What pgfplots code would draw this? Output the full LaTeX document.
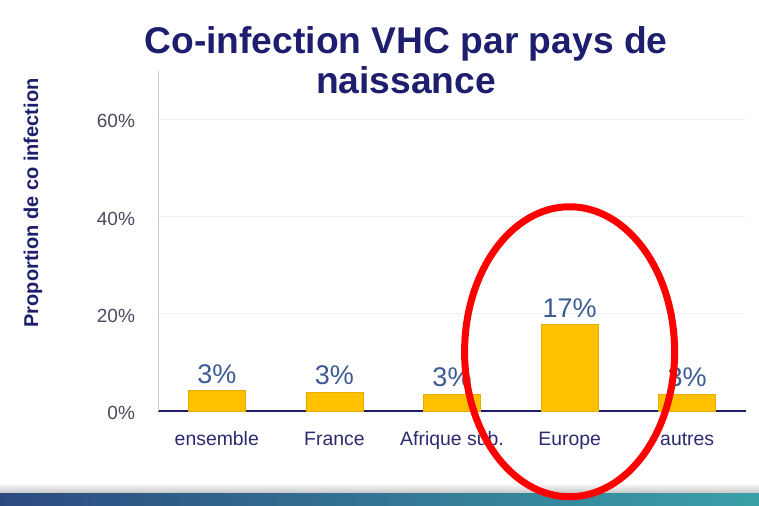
\documentclass[border=0pt]{standalone}
\usepackage{fontspec}
\setmainfont{Liberation Sans}
\usepackage{pgfplots}
\pgfplotsset{compat=1.18}
\definecolor{navy}{HTML}{1E1E6E}
\definecolor{barc}{HTML}{FFC000}
\definecolor{lab}{HTML}{3C5A94}
\definecolor{tickc}{HTML}{4A4A5E}
\definecolor{catc}{HTML}{2A2A70}
\definecolor{bandl}{HTML}{2C4A80}
\definecolor{bandr}{HTML}{3AA0A8}
\begin{document}
\begin{tikzpicture}
\useasboundingbox (0,0) rectangle (379.5pt,252.5pt);
\shade[top color=white, bottom color=gray!45] (0,6pt) rectangle (379.5pt,11pt);
\shade[left color=bandl, right color=bandr] (0,0) rectangle (379.5pt,6pt);
\node[font=\fontsize{18.6}{20}\selectfont\bfseries, text=navy, align=center] at (203pt,222.5pt) {Co-infection VHC par pays de\\naissance};
\node[font=\fontsize{10}{12}\selectfont\bfseries, text=navy, rotate=90] at (16.5pt,151pt) {Proportion de co infection};
\begin{axis}[
  at={(79pt,47pt)}, anchor=south west,
  scale only axis, width=294pt, height=170pt,
  xmin=-0.5, xmax=4.5, ymin=0, ymax=70,
  axis x line*=bottom, axis y line*=left,
  x axis line style={navy, line width=1pt, -},
  y axis line style={gray!40, line width=0.5pt, -},
  xtick={0,1,2,3,4},
  xticklabels={ensemble,France,Afrique sub.,Europe,autres},
  typeset ticklabels with strut,
  x tick label style={font=\fontsize{9.7}{11}\selectfont, text=catc, yshift=-6pt},
  major x tick style={draw=none},
  extra x ticks={-0.5,0.5,1.5,2.5,3.5,4.5},
  extra x tick labels={},
  extra x tick style={tick align=outside, major tick length=3pt, tick style={navy, line width=0.8pt}},
  ytick={0,20,40,60},
  yticklabels={0\%,20\%,40\%,60\%},
  y tick label style={font=\fontsize{9.5}{11}\selectfont, text=tickc, xshift=-8pt, yshift=-2pt},
  major y tick style={draw=none},
  ymajorgrids, grid style={gray!12, line width=0.5pt},
  /pgf/number format/assume math mode=true,
  clip=false,
]
\addplot[ybar, bar width=28.5pt, fill=barc, draw=barc!90!black, line width=0.3pt,
  point meta=explicit symbolic, nodes near coords,
  every node near coord/.append style={font=\fontsize{13.5}{16}\selectfont, text=lab, anchor=south}]
  coordinates {(0,4.2) [3\%] (1,3.9) [3\%] (2,3.5) [3\%] (3,17.8) [17\%] (4,3.5) [3\%]};
\coordinate (E) at (axis cs:3,12.2);
\end{axis}
\draw[red, line width=3.5pt] (E) ellipse [x radius=52.5pt, y radius=72.5pt];
\end{tikzpicture}
\end{document}
